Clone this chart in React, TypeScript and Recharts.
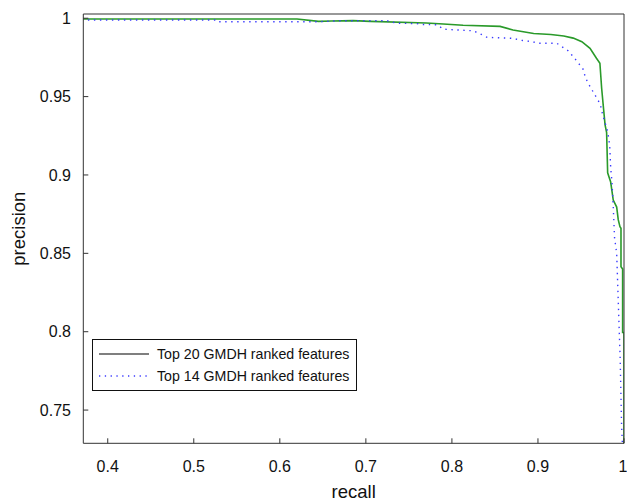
import React from "react";
import { LineChart, Line, XAxis, YAxis, Label } from "recharts";

// recall / precision
const top20Recall = [
  0.37, 0.62, 0.645, 0.66, 0.685, 0.705, 0.77, 0.79, 0.813, 0.856, 0.871, 0.895,
  0.915, 0.93, 0.941, 0.951, 0.9605, 0.968, 0.972, 0.974, 0.976, 0.978, 0.9798,
  0.981, 0.9845, 0.9875, 0.9915, 0.9933, 0.9953, 0.9965, 0.9965, 0.9984, 0.9984,
  1.0, 1.0,
];
const top20Precision = [
  0.9995, 0.9995, 0.998, 0.9982, 0.9985, 0.998, 0.997, 0.9963, 0.9955, 0.9948,
  0.9925, 0.9903, 0.9896, 0.9887, 0.9873, 0.985, 0.9808, 0.9745, 0.9713, 0.9555,
  0.9436, 0.932, 0.927, 0.9014, 0.8955, 0.884, 0.8795, 0.8715, 0.867, 0.866,
  0.8415, 0.84, 0.7995, 0.7995, 0.72,
];
const top14Recall = [
  0.37, 0.527, 0.529, 0.647, 0.67, 0.7245, 0.736, 0.759, 0.766, 0.783, 0.79,
  0.8245, 0.833, 0.841, 0.871, 0.879, 0.894, 0.899, 0.922, 0.928, 0.935, 0.941,
  0.9466, 0.9524, 0.9547, 0.9573, 0.9617, 0.9663, 0.9701, 0.9733, 0.9748, 0.9791,
  0.981, 0.9825, 0.9835, 0.9845, 0.986, 0.9875, 0.989, 0.9915, 0.9933, 0.9945,
  0.9955, 0.9972, 0.9984,
];
const top14Precision = [
  0.9989, 0.9989, 0.9978, 0.9978, 0.9984, 0.9984, 0.9968, 0.9966, 0.996, 0.9958,
  0.993, 0.992, 0.99, 0.9878, 0.9872, 0.986, 0.985, 0.984, 0.984, 0.9818, 0.9793,
  0.9755, 0.9717, 0.9675, 0.9632, 0.9596, 0.9553, 0.951, 0.9475, 0.9432, 0.9394,
  0.9313, 0.9277, 0.9224, 0.9171, 0.905, 0.8957, 0.88, 0.86, 0.85, 0.82, 0.8,
  0.784, 0.74, 0.725,
];
const xTicks = [0.4, 0.5, 0.6, 0.7, 0.8, 0.9, 1];
const yTicks = [0.75, 0.8, 0.85, 0.9, 0.95, 1];
const seriesNames = ["Top 20 GMDH ranked features", "Top 14 GMDH ranked features"];

const top20 = top20Recall.map((x, i) => ({ x, y: top20Precision[i] }));
const top14 = top14Recall.map((x, i) => ({ x, y: top14Precision[i] }));

const FONT = '"Liberation Sans", Arial, Helvetica, sans-serif';
const AXIS = "#333";
const xDomain = [0.3716, 1];
const yDomain = [0.7288, 1.0027];

function YTitle(props: any) {
  const { viewBox } = props;
  const cx = 19;
  const cy = viewBox.y + viewBox.height / 2;
  return (
    <text
      x={cx}
      y={cy}
      transform={`rotate(-90 ${cx} ${cy})`}
      textAnchor="middle"
      dominantBaseline="central"
      fontSize={18.5}
      fontFamily={FONT}
      fill="#111"
    >
      precision
    </text>
  );
}

export default function App() {
  return (
    <div style={{ position: "absolute", left: 0, top: 0, width: 627, height: 502, background: "#fff", fontFamily: FONT }}>
      <LineChart width={627} height={502} margin={{ top: 0, right: 0, bottom: 0, left: 0 }}>
        <XAxis
          xAxisId="b"
          type="number"
          dataKey="x"
          domain={xDomain}
          ticks={xTicks}
          allowDataOverflow
          height={58.7}
          stroke={AXIS}
          tickSize={-5}
          tickMargin={22.1}
          tick={{ fill: "#111", fontSize: 16, fontFamily: FONT }}
        >
          <Label value="recall" position="insideBottom" offset={4} fill="#111" fontSize={18.5} fontFamily={FONT} />
        </XAxis>
        <XAxis
          xAxisId="t"
          orientation="top"
          type="number"
          domain={xDomain}
          ticks={xTicks}
          allowDataOverflow
          height={14}
          stroke={AXIS}
          tickSize={-5}
          tick={false}
        />
        <YAxis
          yAxisId="l"
          type="number"
          domain={yDomain}
          ticks={yTicks}
          allowDataOverflow
          width={83.3}
          stroke={AXIS}
          tickSize={-5}
          tickMargin={17.3}
          tick={{ fill: "#111", fontSize: 16, fontFamily: FONT }}
        >
          <Label content={YTitle} />
        </YAxis>
        <YAxis
          yAxisId="r"
          orientation="right"
          type="number"
          domain={yDomain}
          ticks={yTicks}
          allowDataOverflow
          width={3}
          stroke={AXIS}
          tickSize={-5}
          tick={false}
        />
        <Line
          xAxisId="b"
          yAxisId="l"
          data={top20}
          dataKey="y"
          type="linear"
          stroke="#2a9a2a"
          strokeWidth={1.6}
          dot={false}
          isAnimationActive={false}
          name={seriesNames[0]}
        />
        <Line
          xAxisId="b"
          yAxisId="l"
          data={top14}
          dataKey="y"
          type="linear"
          stroke="#3a3aff"
          strokeWidth={1.4}
          strokeDasharray="1.4 4.6"
          dot={false}
          isAnimationActive={false}
          name={seriesNames[1]}
        />
      </LineChart>
      <div
        style={{
          position: "absolute",
          left: 92,
          top: 339,
          width: 265,
          height: 52,
          border: "1px solid #111",
          background: "#fff",
          boxSizing: "border-box",
        }}
      >
        {seriesNames.map((name, i) => (
          <div
            key={name}
            style={{ position: "absolute", left: 0, top: i === 0 ? 4 : 26, height: 20, display: "flex", alignItems: "center" }}
          >
            <svg width={58} height={20} style={{ display: "block" }}>
              <line
                x1={6}
                x2={56}
                y1={10}
                y2={10}
                stroke={i === 0 ? "#000" : "#3a3aff"}
                strokeWidth={i === 0 ? 1.2 : 1.3}
                strokeDasharray={i === 0 ? undefined : "1.3 4.5"}
              />
            </svg>
            <span style={{ marginLeft: 6, fontSize: 14.2, color: "#111", whiteSpace: "nowrap" }}>{name}</span>
          </div>
        ))}
      </div>
    </div>
  );
}
